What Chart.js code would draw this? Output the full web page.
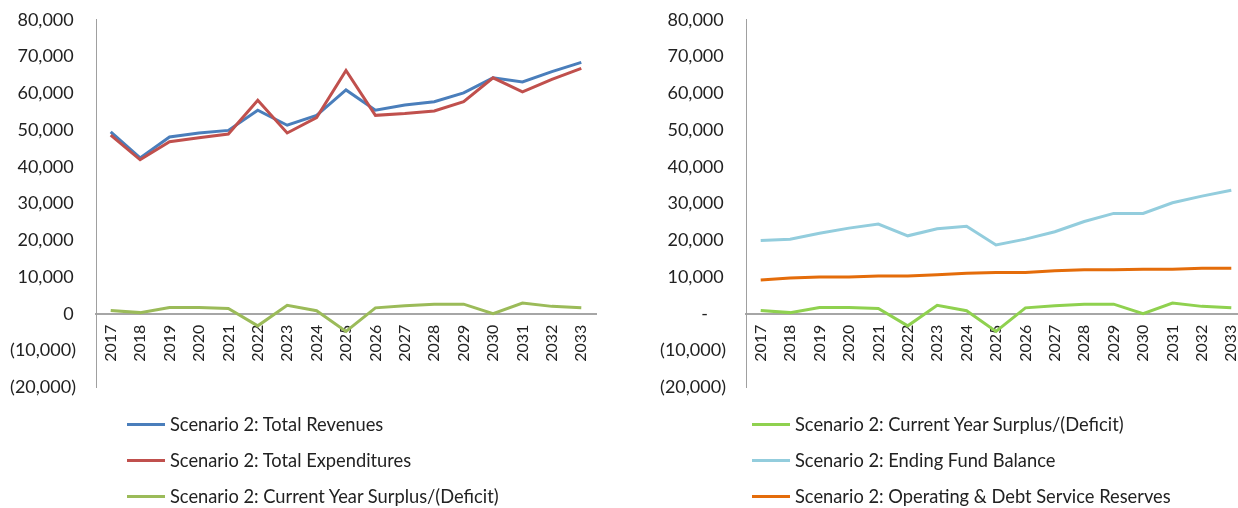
<!DOCTYPE html>
<html>
<head>
<meta charset="utf-8">
<script src="https://cdn.jsdelivr.net/npm/chart.js@4/dist/chart.umd.min.js"></script>
<style>
  html, body { margin: 0; padding: 0; background: #fff; }
  #page { position: relative; width: 1238px; height: 508px; overflow: hidden; font-family: Lato, sans-serif; }
  canvas { position: absolute; top: -11px; }
  #c1 { left: 0; }
  #c2 { left: 650px; }
  .legend { position: absolute; top: 406px; color: #222; font-size: 18.3px; }
  .legend div { height: 36px; display: flex; align-items: center; }
  .legend span.ln { display: inline-block; width: 38px; height: 3px; margin-right: 5px; }
</style>
</head>
<body>
<div id="page">
  <canvas id="c1" width="620" height="429"></canvas>
  <canvas id="c2" width="620" height="429"></canvas>
  <div class="legend" id="leg1" style="left:127px"></div>
  <div class="legend" id="leg2" style="left:752px"></div>
</div>
<script>
'use strict'

const years = ['2017', '2018', '2019', '2020', '2021', '2022', '2023', '2024', '2025',
    '2026', '2027', '2028', '2029', '2030', '2031', '2032', '2033'];

const totalRevenues = [49500, 42400, 48100, 49200, 49900, 55400, 51300, 54000, 60900,
    55400, 56800, 57700, 60100, 64200, 63100, 65900, 68400];
const totalExpenditures = [48600, 41900, 46800, 47900, 48900, 58100, 49200, 53400, 66200,
    54000, 54500, 55200, 57700, 64200, 60400, 63800, 66800];
const surplusDeficit = [900, 300, 1700, 1700, 1400, -3300, 2300, 800, -4800,
    1600, 2200, 2600, 2600, 0, 2900, 2000, 1600];
const endingFundBalance = [19900, 20300, 21900, 23300, 24400, 21200, 23100, 23800, 18700,
    20300, 22300, 25100, 27300, 27300, 30200, 32000, 33600];
const reserves = [9200, 9700, 10000, 10000, 10300, 10300, 10600, 11000, 11200,
    11200, 11700, 12000, 12000, 12100, 12100, 12400, 12400];

const yMin = -20000;
const yMax = 80000;
const yStep = 10000;

function fmtLeft(v) {
    if (v < 0) return '(' + Math.abs(v).toLocaleString('en-US') + ')';
    return v.toLocaleString('en-US') + '\u2009';
}
function fmtRight(v) {
    if (v === 0) return '-\u2002\u2002';
    return fmtLeft(v);
}

function line(label, data, color, order) {
    return {
        label: label,
        data: data,
        borderColor: color,
        backgroundColor: color,
        borderWidth: 3,
        pointRadius: 0,
        tension: 0,
        fill: false,
        order: order
    };
}

function makeOptions(fmt) {
    return {
        responsive: false,
        animation: false,
        layout: { padding: { top: 0, bottom: 0, left: 0, right: 24 } },
        plugins: { legend: { display: false }, tooltip: { enabled: false } },
        scales: {
            x: {
                position: { y: 0 },
                offset: true,
                grid: { display: false, drawTicks: false, offset: true },
                border: { display: true, color: '#a6a6a6', width: 2 },
                ticks: {
                    color: '#222',
                    font: { family: 'Lato', size: 16 },
                    minRotation: 90,
                    maxRotation: 90,
                    padding: 11,
                    autoSkip: false
                },
                // axis sits on the zero line, so it should not take room at the bottom
                afterFit: function (scale) { scale.height = 0; }
            },
            y: {
                min: yMin,
                max: yMax,
                grid: { display: false, drawTicks: false },
                border: { display: true, color: '#a0a0a0', width: 1 },
                ticks: {
                    stepSize: yStep,
                    color: '#222',
                    font: { family: 'Lato', size: 18 },
                    padding: 20,
                    callback: function (v) { return fmt(v); }
                },
                afterFit: function (scale) { scale.width = 96; }
            }
        }
    };
}

const chart1 = new Chart(document.getElementById('c1'), {
    type: 'line',
    data: {
        labels: years,
        datasets: [
            line('Scenario 2: Total Revenues', totalRevenues, '#4a7ebb', 3),
            line('Scenario 2: Total Expenditures', totalExpenditures, '#c0504d', 2),
            line('Scenario 2: Current Year Surplus/(Deficit)', surplusDeficit, '#9bbb59', 1)
        ]
    },
    options: makeOptions(fmtLeft)
});

const chart2 = new Chart(document.getElementById('c2'), {
    type: 'line',
    data: {
        labels: years,
        datasets: [
            line('Scenario 2: Current Year Surplus/(Deficit)', surplusDeficit, '#8fd14f', 1),
            line('Scenario 2: Ending Fund Balance', endingFundBalance, '#93cddd', 3),
            line('Scenario 2: Operating & Debt Service Reserves', reserves, '#e46c0a', 2)
        ]
    },
    options: makeOptions(fmtRight)
});

// html legend, one entry per row
function buildLegend(chart, id) {
    const box = document.getElementById(id);
    chart.data.datasets.forEach(function (ds) {
        const row = document.createElement('div');
        const ln = document.createElement('span');
        ln.className = 'ln';
        ln.style.background = ds.borderColor;
        row.appendChild(ln);
        row.appendChild(document.createTextNode(ds.label));
        box.appendChild(row);
    });
}
buildLegend(chart1, 'leg1');
buildLegend(chart2, 'leg2');
</script>
</body>
</html>
